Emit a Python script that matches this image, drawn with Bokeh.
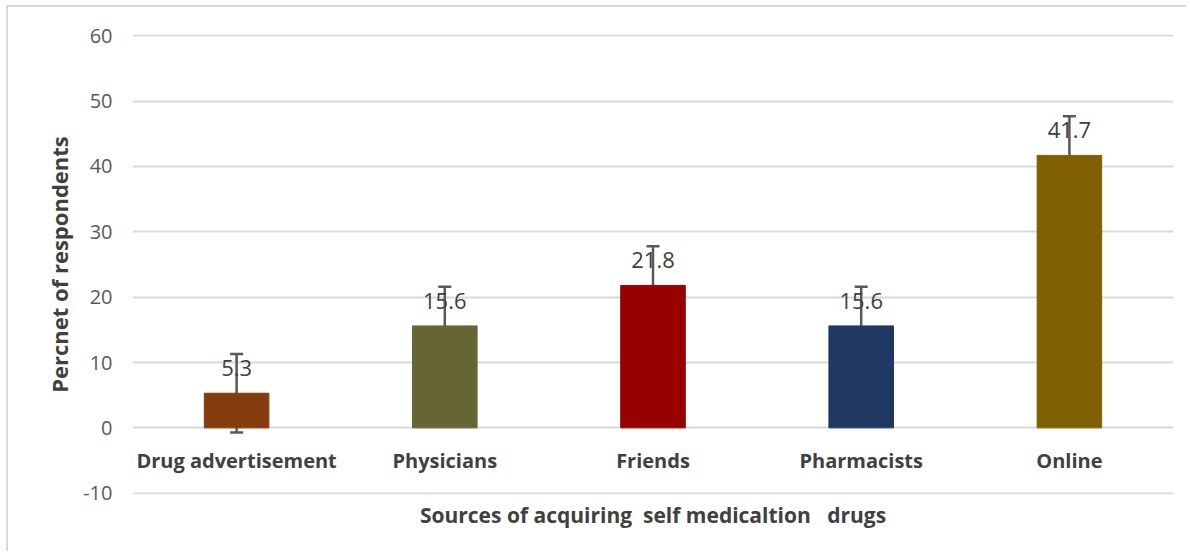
from bokeh.plotting import figure
from bokeh.models import (ColumnDataSource, Whisker, TeeHead, LabelSet, FixedTicker, Range1d,
                          FactorRange, Title, PrintfTickFormatter)
from bokeh.core.properties import value
from bokeh.embed import file_html
from bokeh.resources import INLINE

categories = ["Drug advertisement", "Physicians", "Friends", "Pharmacists", "Online"]
values = [5.3, 15.6, 21.8, 15.6, 41.7]
errors = [6.0, 6.0, 6.0, 6.0, 6.0]
colors = ["#843C0C", "#666633", "#990000", "#1F3864", "#7F6000"]
y_ticks = [-10, 0, 10, 20, 30, 40, 50, 60]

FONT = "Open Sans"
NB = "\u00a0"

src = ColumnDataSource(dict(
    cat=categories,
    val=values,
    upper=[v + e for v, e in zip(values, errors)],
    lower=[v - e for v, e in zip(values, errors)],
    color=colors,
    label=[f"{v:.1f}" for v in values],
))

p = figure(
    width=1180, height=546,
    x_range=FactorRange(factors=categories, range_padding=0),
    y_range=Range1d(-10.2, 60.2),
    output_backend="svg", toolbar_location=None,
    min_border_left=124, min_border_right=15, min_border_top=27, min_border_bottom=59,
    styles={"border-left": "2px solid #d9d9d9", "border-top": "2px solid #d9d9d9",
            "margin-left": "6px", "margin-top": "5px"},
)
p.outline_line_color = None
p.background_fill_color = "white"
p.border_fill_color = "white"

p.vbar(x="cat", top="val", bottom=0, width=0.31, color="color", source=src)

whisk = Whisker(base="cat", upper="upper", lower="lower", source=src,
                line_color="#595959", line_width=2.5,
                upper_head=TeeHead(size=13, line_color="#595959", line_width=2.5),
                lower_head=TeeHead(size=13, line_color="#595959", line_width=2.5))
p.add_layout(whisk)

labels = LabelSet(x="cat", y="val", text="label", source=src, text_align="center",
                  text_baseline="middle", y_offset=25, text_font=value(FONT),
                  text_font_size=value("22px"), text_color=value("#404040"))
p.add_layout(labels)

# y axis
p.yaxis.ticker = FixedTicker(ticks=y_ticks)
p.yaxis.formatter = PrintfTickFormatter(format="%d")
p.yaxis.axis_line_color = None
p.yaxis.major_tick_line_color = None
p.yaxis.minor_tick_line_color = None
p.yaxis.major_label_text_font = FONT
p.yaxis.major_label_text_font_size = "20px"
p.yaxis.major_label_text_color = "#595959"
p.yaxis.major_label_standoff = 14
p.yaxis.axis_label = "Percnet of respondents"
p.yaxis.axis_label_text_font = FONT
p.yaxis.axis_label_text_font_size = "22px"
p.yaxis.axis_label_text_font_style = "bold"
p.yaxis.axis_label_text_color = "#404040"
p.yaxis.axis_label_standoff = 6

# x axis at y=0
p.xaxis.fixed_location = 0
p.xaxis.axis_line_color = None
p.xaxis.major_tick_line_color = None
p.xaxis.minor_tick_line_color = None
p.xaxis.major_label_text_font = FONT
p.xaxis.major_label_text_font_size = "20px"
p.xaxis.major_label_text_font_style = "bold"
p.xaxis.major_label_text_color = "#404040"
p.xaxis.major_label_standoff = 13

p.xgrid.grid_line_color = None
p.ygrid.grid_line_color = "#d9d9d9"
p.ygrid.grid_line_width = 2

p.add_layout(Title(text=f"Sources of acquiring {NB}self medicaltion {NB}{NB}drugs", align="center",
                   text_font=FONT, text_font_size="21px", text_font_style="bold",
                   text_color="#404040", standoff=8), "below")

open("out.html", "w").write(file_html(p, INLINE))
